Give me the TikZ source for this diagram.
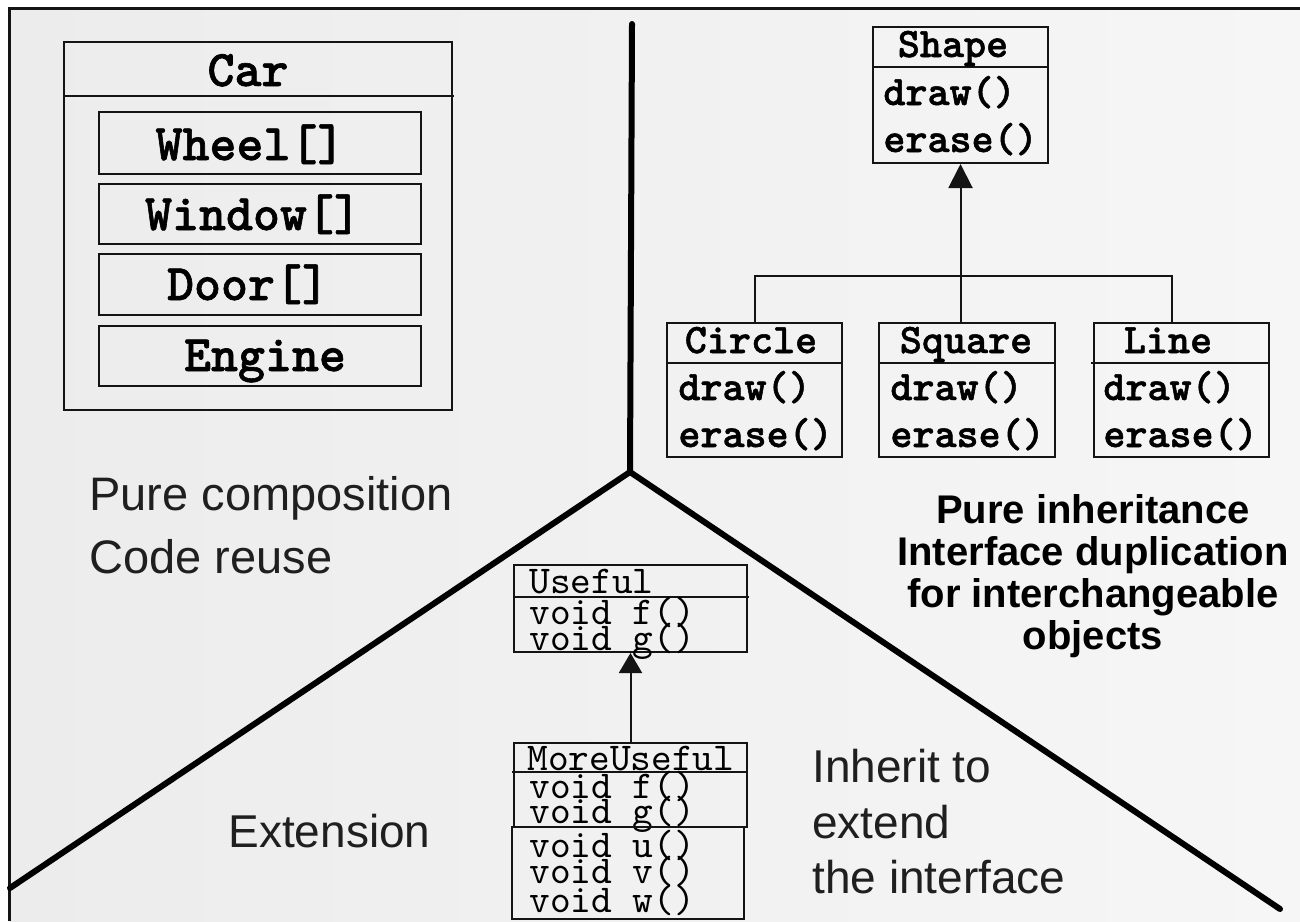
\documentclass[tikz,border=0pt]{standalone}
\usepackage{fontspec}
\setmainfont{Liberation Sans}
\newfontfamily\monob[FakeBold=1.2]{lmmonolt10-bold.otf}
\newfontfamily\monor{lmmono10-regular.otf}
\usetikzlibrary{arrows.meta}

\definecolor{bgL}{HTML}{ECECEC}
\definecolor{bgR}{HTML}{F6F6F6}
\definecolor{ink}{HTML}{141414}

\begin{document}
\begin{tikzpicture}[x=0.5pt,y=-0.5pt,
  box/.style={draw=ink, line width=1pt, rectangle, inner sep=0pt},
  rule/.style={draw=ink, line width=1pt},
  conn/.style={draw=ink, line width=1pt},
  divider/.style={draw=black, line width=3pt, line cap=round, line join=round},
  txt/.style={inner sep=0pt, text=black},
  carT/.style={txt, anchor=base, font=\monob\fontsize{25.7}{30}\selectfont},
  shpT/.style={txt, font=\monob\fontsize{21}{25}\selectfont},
  useT/.style={txt, anchor=base west, font=\monor\fontsize{19.7}{23}\selectfont},
  lbl/.style={txt, anchor=base west, text=black!88, font=\fontsize{23}{27}\selectfont},
  blbl/.style={txt, anchor=base, font=\bfseries\fontsize{20}{21}\selectfont}
]
\useasboundingbox (0,0) rectangle (1300,921);

% page background and frame
\fill[white] (0,0) rectangle (1300,921);
\shade[left color=bgL, right color=bgR] (9,8) rectangle (1300,921);
\draw[ink, line width=1.5pt] (9,921) -- (9,8) -- (1300,8);

% three-way divider
\coordinate (J) at (630,472);
\coordinate (topEnd) at (632,24);
\coordinate (leftEnd) at (10,888);
\coordinate (rightEnd) at (1280,909);
\draw[divider] (topEnd) -- (J);
\draw[divider] (leftEnd) -- (J) -- (rightEnd);

% ---------- Car (composition) ----------
\node[box, minimum width=194pt, minimum height=184pt] (car) at (258,226) {};
\draw[rule] (64,96) -- (454,96);
\node[box, minimum width=161pt, minimum height=31pt]   (wheel)  at (260,143) {};
\node[box, minimum width=161pt, minimum height=30pt]   (window) at (260,214) {};
\node[box, minimum width=161pt, minimum height=30.5pt] (door)   at (260,284.5) {};
\node[box, minimum width=161pt, minimum height=30pt]   (engine) at (260,356) {};
\node[carT] (carname) at (248,86)  {Car};
\node[carT] (wheelT)  at (250,160) {Wheel[]};
\node[carT] (windowT) at (253,230) {Window[]};
\node[carT] (doorT)   at (248,300) {Door[]};
\node[carT] (engineT) at (265,371) {Engine};

\node[lbl, font=\fontsize{23.5}{28}\selectfont] (pc) at (89,510) {Pure composition};
\node[lbl, font=\fontsize{23.5}{28}\selectfont] (cr) at (89,573) {Code reuse};

% ---------- Shape hierarchy (inheritance) ----------
\node[box, minimum width=87.5pt, minimum height=68pt] (shape) at (960.5,95) {};
\draw[rule] (873,67) -- (1048,67);
\node[shpT, anchor=base] (shapeN) at (953,57) {Shape};
\node[shpT, anchor=base west] (shapeD) at (883,105) {draw()};
\node[shpT, anchor=base west] (shapeE) at (883,152) {erase()};

\node[box, minimum width=87.5pt, minimum height=67pt] (circ) at (754.5,390) {};
\draw[rule] (667,363) -- (842,363);
\node[shpT, anchor=base] (circN) at (751,353) {Circle};
\node[shpT, anchor=base west] (circD) at (678,400) {draw()};
\node[shpT, anchor=base west] (circE) at (678,447) {erase()};

\node[box, minimum width=88pt, minimum height=67pt] (sq) at (967,390) {};
\draw[rule] (879,363) -- (1055,363);
\node[shpT, anchor=base] (sqN) at (966,353) {Square};
\node[shpT, anchor=base west] (sqD) at (890,400) {draw()};
\node[shpT, anchor=base west] (sqE) at (890,447) {erase()};

\node[box, minimum width=87.5pt, minimum height=67pt] (lin) at (1181.5,390) {};
\draw[rule] (1091,363) -- (1269,363);
\node[shpT, anchor=base] (linN) at (1168,353) {Line};
\node[shpT, anchor=base west] (linD) at (1103,400) {draw()};
\node[shpT, anchor=base west] (linE) at (1103,447) {erase()};

\coordinate (bar) at (960,276);
\draw[conn] (circ.north) |- (bar) -| ([xshift=-4.75pt]lin.north);
\draw[conn, -{Triangle[length=12pt,width=12pt]}] (sq.north -| shape.south) -- (shape.south);

\node[blbl] (pi1) at (1093,523) {Pure inheritance};
\node[blbl] (pi2) at (1093,565) {Interface duplication};
\node[blbl] (pi3) at (1093,607) {for interchangeable};
\node[blbl] (pi4) at (1093,649) {objects};

% ---------- Useful / MoreUseful (extension) ----------
\node[box, minimum width=116.5pt, minimum height=43.5pt] (useful) at (630.5,608.5) {};
\draw[rule] (514,597) -- (749,597);
\node[useT] (uN) at (529,593) {Useful};
\node[useT] (uF) at (529,624) {void f()};
\node[useT] (uG) at (529,650) {void g()};

\node[box, minimum width=116.5pt, minimum height=42pt] (more) at (630.5,785) {};
\draw[rule] (512,772) -- (747,772);
\node[useT] (mN) at (527,770) {MoreUseful};
\node[useT] (mF) at (529,798) {void f()};
\node[useT] (mG) at (529,823) {void g()};

\node[box, minimum width=116pt, minimum height=46pt] (moreops) at (628,873) {};
\node[useT] (mU) at (529,857) {void u()};
\node[useT] (mV) at (529,883) {void v()};
\node[useT] (mW) at (529,912) {void w()};

\draw[conn, -{Triangle[length=10pt,width=11.5pt]}] (more.north) -- (useful.south);

\node[lbl] (ext) at (228,847) {Extension};
\node[lbl] (ih1) at (812,782) {Inherit to};
\node[lbl] (ih2) at (812,838) {extend};
\node[lbl] (ih3) at (812,893) {the interface};
\end{tikzpicture}
\end{document}
